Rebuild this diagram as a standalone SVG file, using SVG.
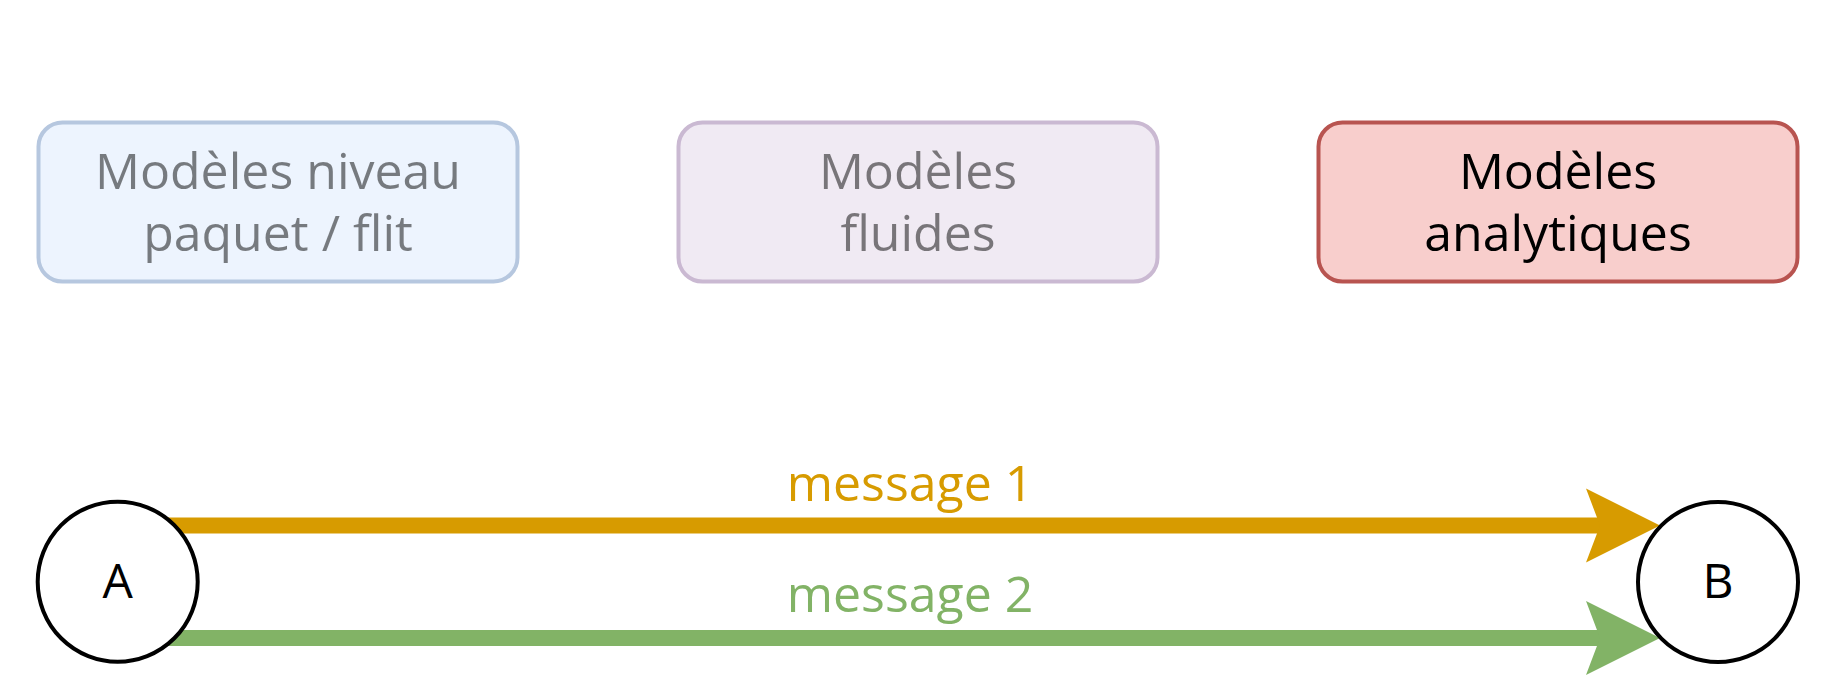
<svg xmlns="http://www.w3.org/2000/svg" width="1840" height="696" viewBox="0 0 1840 696">
<style>
  .lbl { font-family: "Open Sans", "Noto Sans", "Liberation Sans", sans-serif; font-size: 50px; text-anchor: middle; }
  .node-lbl { font-family: "Open Sans", "Noto Sans", "Liberation Sans", sans-serif; font-size: 48px; text-anchor: middle; fill: #000000; }
  .box { stroke-width: 4; }
  .faded { fill: #000000; fill-opacity: 0.5; }
  .circ { fill: #ffffff; stroke: #000000; stroke-width: 4; }
</style>
<rect width="1840" height="696" fill="#ffffff"/>
<g id="connectors">
  <g id="edge-msg1">
    <line x1="150" y1="525.5" x2="1602" y2="525.5" stroke="#d79b00" stroke-width="16"/>
    <polygon points="1586,488.5 1660,525.5 1586,562.5 1600,525.5" fill="#d79b00"/>
    <text class="lbl" x="910" y="501" fill="#d79b00">message 1</text>
  </g>
  <g id="edge-msg2">
    <line x1="150" y1="638" x2="1602" y2="638" stroke="#82b366" stroke-width="16"/>
    <polygon points="1586,601 1660,638 1586,675 1600,638" fill="#82b366"/>
    <text class="lbl" x="910" y="611.7" fill="#82b366">message 2</text>
  </g>
</g>
<g id="node-paquet">
  <rect class="box" x="38.5" y="122.5" width="479" height="159" rx="24" fill="#edf4fe" stroke="#b6c7df"/>
  <text class="lbl faded" x="278" y="189.3">Modèles niveau</text>
  <text class="lbl faded" x="278" y="250.7">paquet / flit</text>
</g>
<g id="node-fluides">
  <rect class="box" x="678.5" y="122.5" width="479" height="159" rx="24" fill="#f0eaf3" stroke="#cab9d2"/>
  <text class="lbl faded" x="918" y="189.3">Modèles</text>
  <text class="lbl faded" x="918" y="250.7">fluides</text>
</g>
<g id="node-analytiques">
  <rect class="box" x="1318.5" y="122.5" width="479" height="159" rx="24" fill="#f8cecc" stroke="#b85450"/>
  <text class="lbl" x="1558" y="189.3" fill="#000000">Modèles</text>
  <text class="lbl" x="1558" y="250.7" fill="#000000">analytiques</text>
</g>
<g id="node-A">
  <circle class="circ" cx="117.7" cy="581.7" r="80"/>
  <text class="node-lbl" x="117.7" y="598.3">A</text>
</g>
<g id="node-B">
  <circle class="circ" cx="1718" cy="582" r="80"/>
  <text class="node-lbl" x="1718" y="597.5">B</text>
</g>
</svg>
